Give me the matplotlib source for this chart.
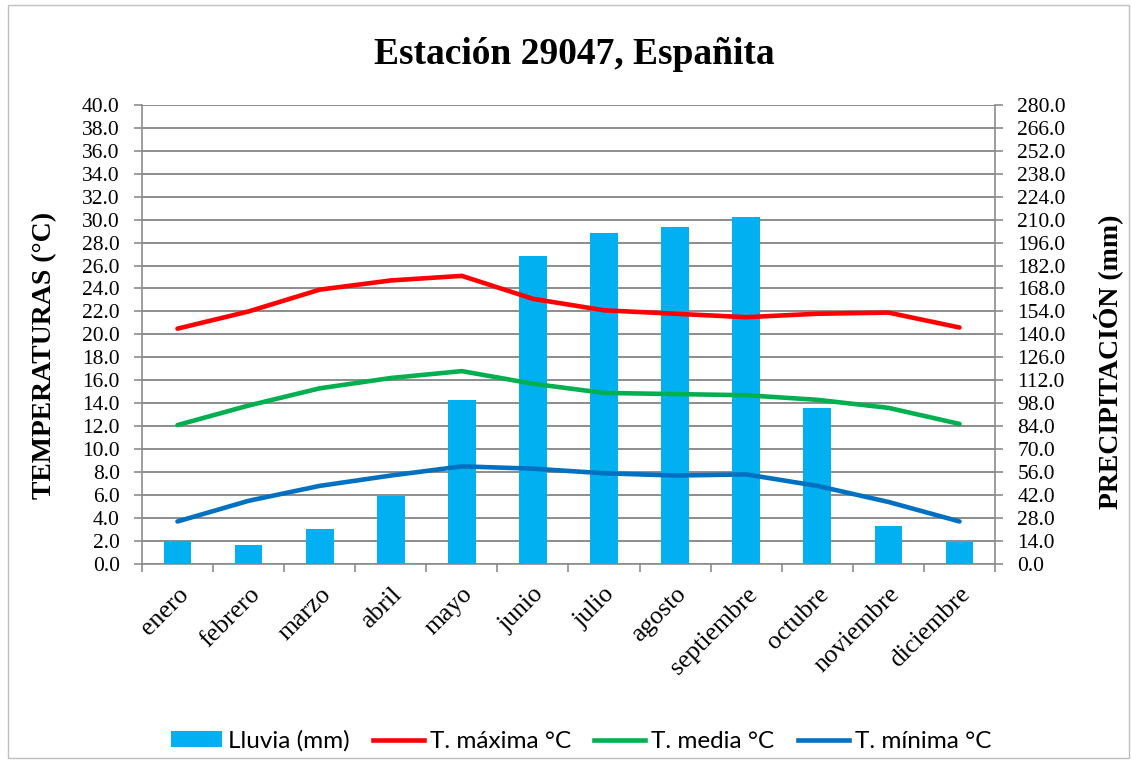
import matplotlib
matplotlib.use("Agg")
import matplotlib.pyplot as plt
from matplotlib.patches import Rectangle, Patch
from matplotlib.lines import Line2D
import numpy as np

meses = ["enero", "febrero", "marzo", "abril", "mayo", "junio", "julio",
         "agosto", "septiembre", "octubre", "noviembre", "diciembre"]
lluvia = [14.0, 11.6, 21.4, 41.7, 100.0, 188.0, 201.8, 205.4, 211.5, 95.2, 23.2, 13.2]
t_max = [20.5, 22.0, 23.9, 24.7, 25.1, 23.1, 22.1, 21.8, 21.5, 21.8, 21.9, 20.6]
t_media = [12.1, 13.8, 15.3, 16.2, 16.8, 15.7, 14.9, 14.8, 14.7, 14.3, 13.6, 12.2]
t_min = [3.7, 5.5, 6.8, 7.7, 8.5, 8.3, 7.9, 7.7, 7.8, 6.8, 5.4, 3.7]

temp_ticks = np.arange(0, 40.1, 2.0)
prec_ticks = np.arange(0, 280.1, 14.0)

C_BAR = "#00B0F0"
C_MAX = "#FF0000"
C_MED = "#00B050"
C_MIN = "#0070C0"
C_GRID = "#8C8C8C"

serif = ["Liberation Serif", "DejaVu Serif"]
sans = ["Lato", "DejaVu Sans"]

fig = plt.figure(figsize=(11.32, 7.6), dpi=100)
fig.patches.append(Rectangle((0.007, 0.003), 0.99, 0.99, transform=fig.transFigure,
                             fill=False, edgecolor="#BFBFBF", linewidth=1.0))

ax_p = fig.add_axes([0.1254, 0.258, 0.7536, 0.604])
x = np.arange(len(meses))

# precipitation bars (right-hand scale)
ax_p.bar(x, lluvia, width=0.39, color=C_BAR, zorder=3)
ax_p.set_ylim(0, 280)
ax_p.set_xlim(-0.5, len(meses) - 0.5)
ax_p.grid(axis="y", color=C_GRID, linewidth=1.4, zorder=0)
ax_p.set_axisbelow(True)

# temperature lines (left-hand scale)
ax_t = ax_p.twinx()
ax_t.plot(x, t_max, color=C_MAX, linewidth=3.3, solid_capstyle="round")
ax_t.plot(x, t_media, color=C_MED, linewidth=3.3, solid_capstyle="round")
ax_t.plot(x, t_min, color=C_MIN, linewidth=3.3, solid_capstyle="round")
ax_t.set_ylim(0, 40)

# axis sides: temperature on the left, precipitation on the right
ax_t.yaxis.tick_left()
ax_p.yaxis.tick_right()

ax_p.set_yticks(prec_ticks)
ax_p.set_yticklabels([f"{v:.1f}" for v in prec_ticks], fontfamily=serif, fontsize=15.5)
ax_t.set_yticks(temp_ticks)
ax_t.set_yticklabels([f"{v:.1f}" for v in temp_ticks], fontfamily=serif, fontsize=15.5)
for a in (ax_p, ax_t):
    a.tick_params(axis="y", length=6, color=C_GRID, width=1.2, pad=10)

# category ticks on the boundaries, month names at the centres
ax_p.set_xticks(np.arange(-0.5, len(meses)))
ax_p.set_xticklabels([])
ax_p.set_xticks(x, minor=True)
ax_p.set_xticklabels(meses, minor=True, rotation=45, ha="right",
                     rotation_mode="anchor", fontfamily=serif, fontsize=18.5)
ax_p.tick_params(axis="x", which="minor", length=0, pad=14)
ax_p.tick_params(axis="x", which="major", length=6, color=C_GRID, width=1.2)

for side in ["top", "left"]:
    ax_p.spines[side].set_visible(False)
for side in ["bottom", "right"]:
    ax_p.spines[side].set_color(C_GRID)
    ax_p.spines[side].set_linewidth(1.2)
for side in ["top", "right", "bottom"]:
    ax_t.spines[side].set_visible(False)
ax_t.spines["left"].set_color(C_GRID)
ax_t.spines["left"].set_linewidth(1.2)

fig.text(45 / 1132, 1 - 355 / 760, "TEMPERATURAS (°C)", rotation=90, ha="center",
         va="center", fontfamily=serif, fontsize=20, fontweight="bold")
fig.text(1108 / 1132, 1 - 362 / 760, "PRECIPITACIÓN (mm)", rotation=90, ha="center",
         va="center", fontfamily=serif, fontsize=20, fontweight="bold")

fig.text(574 / 1132, 1 - 54 / 760, "Estación 29047, Españita", ha="center", va="center",
         fontfamily=serif, fontsize=27, fontweight="bold")

handles = [
    Patch(facecolor=C_BAR, edgecolor="none"),
    Line2D([], [], color=C_MAX, linewidth=3.3),
    Line2D([], [], color=C_MED, linewidth=3.3),
    Line2D([], [], color=C_MIN, linewidth=3.3),
]
labels = ["Lluvia (mm)", "T. máxima °C", "T. media °C", "T. mínima °C"]
fig.legend(handles, labels, loc="center", bbox_to_anchor=(581 / 1132, 0.025), ncol=4,
           frameon=False, prop={"family": sans, "size": 17.5}, handlelength=2.1,
           handleheight=0.6, handletextpad=0.25, columnspacing=0.95,
           borderaxespad=0, borderpad=0)

fig.savefig("out.png", dpi=100)
